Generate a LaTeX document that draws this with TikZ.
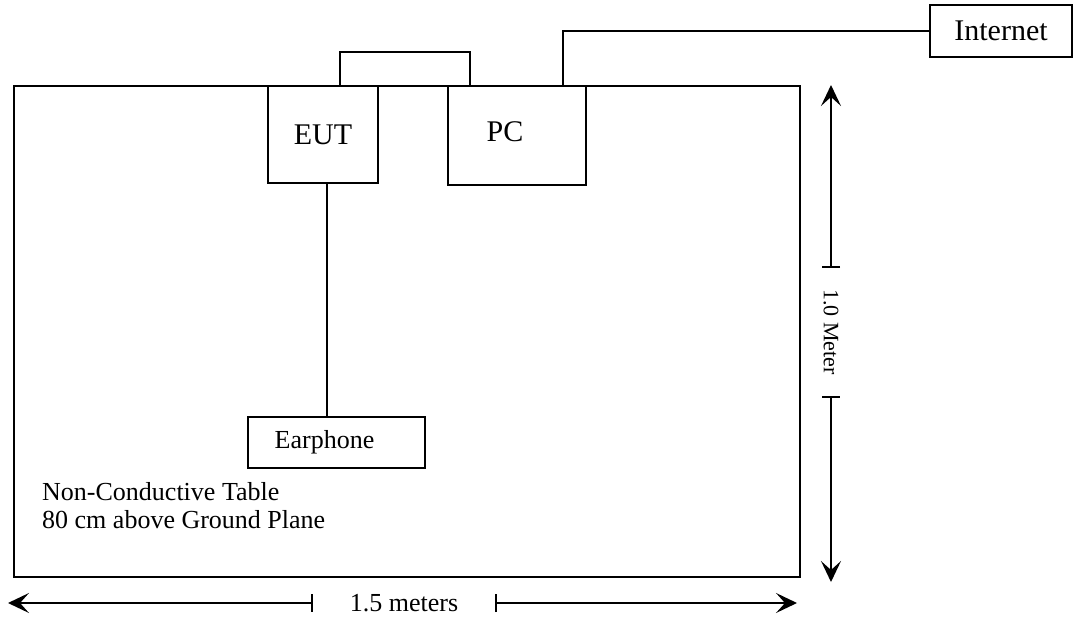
\documentclass[tikz,border=0pt]{standalone}
\usepackage{fontspec}
\setmainfont{Liberation Serif}
\usetikzlibrary{arrows.meta,positioning}
\tikzset{
  >={Stealth[length=20pt,width=19pt,inset=9pt]},
  desk/.style={draw, line width=2pt, inner sep=0pt,
              minimum width=786pt, minimum height=491pt},
  box/.style={draw, line width=1.5pt, inner sep=0pt,
              font=\fontsize{30}{36}\selectfont},
  small/.style={draw, line width=1.5pt, inner sep=0pt,
              font=\fontsize{26}{28}\selectfont},
  lbl/.style={inner sep=0pt, font=\fontsize{26}{28}\selectfont},
  wire/.style={line width=1.5pt},
  dim/.style={line width=1.4pt, {Bar[width=18pt]}-{Stealth[length=21pt,width=20pt,inset=9pt]}},
}
\begin{document}
\begin{tikzpicture}[x=1pt,y=-1pt]
        \useasboundingbox (0,0) rectangle (1074,618);
        \node[desk] (table) at (407,331.5) {};
        \node[box,minimum width=110pt,minimum height=97pt] (eut) at (323,134.5) {EUT};
        \node[box,minimum width=138pt,minimum height=99pt,
              label={[box,draw=none,xshift=-12pt,yshift=4pt]center:PC}] (pc) at (517,135.5) {};
        \node[box,minimum width=142pt,minimum height=52pt] (inet) at (1001,31) {Internet};
        \node[small,minimum width=177pt,minimum height=51pt,
              label={[lbl,xshift=-12pt]center:Earphone}] (ear) at (336.5,442.5) {};
        \node[lbl,anchor=north west,align=left] (note) at (42,482)
              {Non-Conductive Table\\80 cm above Ground Plane};
        \draw[wire] ([xshift=17pt]eut.north) -- ++(0,-33) -| ([xshift=-47pt]pc.north);
        \draw[wire] ([xshift=46pt]pc.north) |- (inet.west);
        \draw[wire] ([xshift=4pt]eut.south) -- ([xshift=4pt]eut.south |- ear.north);
        \node[lbl,minimum width=182pt] (wdim) at (404,603) {1.5 meters};
        \coordinate (wl) at (8,603);
        \coordinate (wr) at (797,603);
        \draw[dim] (wdim.west) -- (wl);
        \draw[dim] (wdim.east) -- (wr);
        \node[lbl,font=\fontsize{22}{26}\selectfont,rotate=-90,minimum width=128pt] (hdim) at (831,332) {1.0 Meter};
        \coordinate (ht) at (831,85);
        \coordinate (hb) at (831,582);
        \draw[dim] (hdim.west) -- (ht);
        \draw[dim] (hdim.east) -- (hb);
\end{tikzpicture}
\end{document}
